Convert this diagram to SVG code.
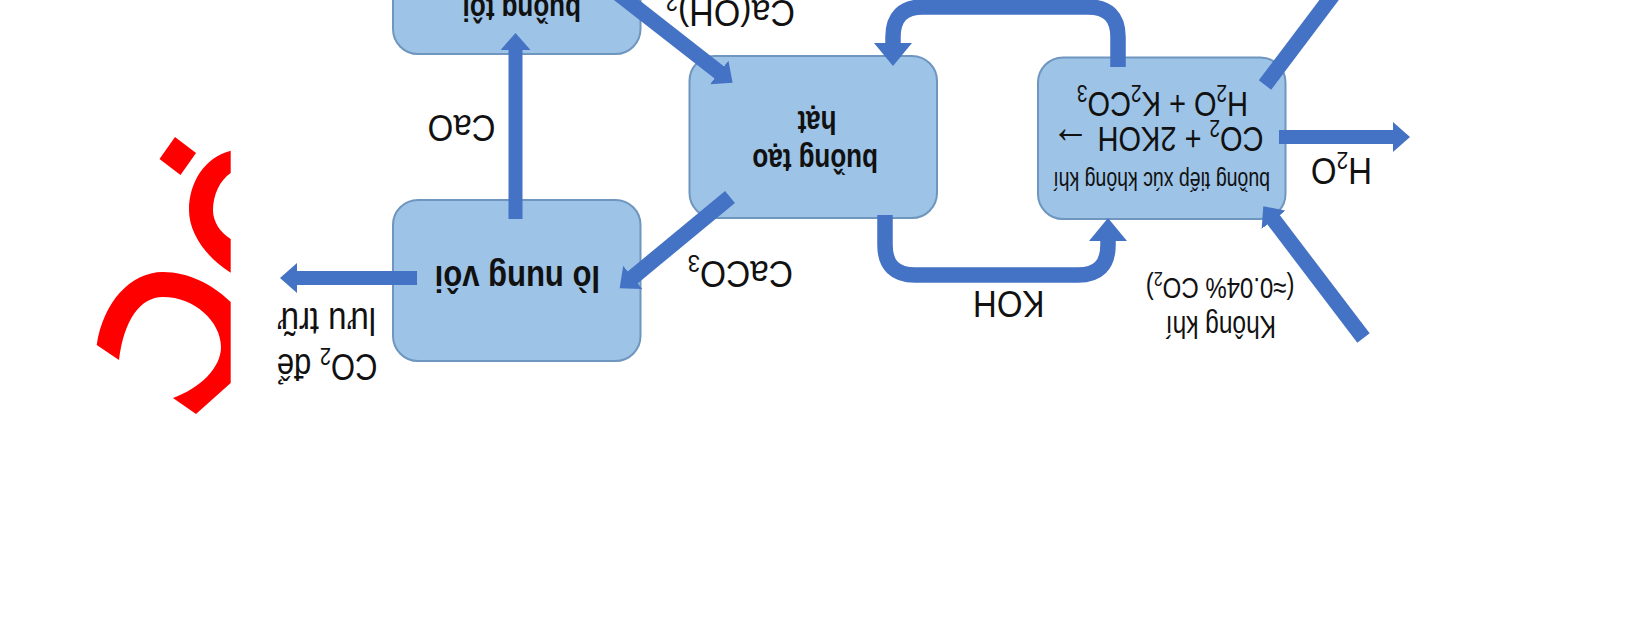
<svg xmlns="http://www.w3.org/2000/svg" width="1650" height="635" viewBox="0 0 1650 635">
<style>
.box{fill:#9DC3E6;stroke:#6F96BF;stroke-width:2}
.c{fill:none;stroke:#4472C4;stroke-width:14}
.w{stroke-width:15.500}
.a{marker-end:url(#h)}
.l{marker-end:url(#g)}
text{font-family:"Liberation Sans",Arial,sans-serif;fill:#111}
.b{font-weight:700}
</style>
<defs>
<marker id="h" markerUnits="userSpaceOnUse" markerWidth="18" markerHeight="30" refX="1" refY="15" orient="auto"><path d="M0,0L17,15L0,30Z" fill="#4472C4"/></marker>
<marker id="g" markerUnits="userSpaceOnUse" markerWidth="24" markerHeight="38" refX="1" refY="19" orient="auto"><path d="M0,0L23,19L0,38Z" fill="#4472C4"/></marker>
</defs>
<rect width="1650" height="635" fill="#fff"/>
<g id="red-shapes" fill="#f00">
<path d="M175,137L196,153L180.500,175L159.500,159Z"/>
<path d="M230.700,150.700C205,157 189,182 189,210C189,234 207,258 230.700,272.700L230.700,239C220,232 213,222 213,210C213,195 220,180 230.700,173Z"/>
<path d="M96.700,345C103,303 130,272 163,272C188,272 212,284 230.700,302L230.700,383L196,414L173,398C200,388 221,368 221,347C221,322 195,297 163,297C140,297 124,320 119,360Z"/>
</g>
<g id="node-buong-toi"><rect class="box" x="393" y="-107" width="247.500" height="161" rx="25"/><text class="b" font-size="26" transform="translate(581,-2) rotate(180) scale(1,1.25)">buồng tôi</text></g>
<g id="node-lo-nung-voi"><rect class="box" x="393" y="200" width="247.500" height="161" rx="25"/><text class="b" font-size="31" transform="translate(600,266) rotate(180) scale(1,1.2)">lò nung vôi</text></g>
<g id="node-buong-tao-hat"><rect class="box" x="689.500" y="56" width="247.500" height="162" rx="25"/><text class="b" font-size="26" transform="translate(878,149) rotate(180) scale(1,1.25)">buồng tạo</text><text class="b" font-size="26" transform="translate(836.500,111) rotate(180) scale(1,1.25)">hạt</text></g>
<g id="node-tiep-xuc"><rect class="box" x="1038" y="57.500" width="247.500" height="161.500" rx="25"/>
<text font-size="19.500" transform="translate(1270,171.500) rotate(180) scale(1,1.3)">buồng tiếp xúc không khí</text>
<text font-size="29" transform="translate(1263.500,126.500) rotate(180) scale(1,1.22)">CO<tspan font-size="19" dy="5">2</tspan><tspan dy="-5"> + 2KOH </tspan><tspan font-size="38">→</tspan></text>
<text font-size="29" transform="translate(1248,91.500) rotate(180) scale(1,1.22)">H<tspan font-size="19" dy="5">2</tspan><tspan dy="-5">O + K</tspan><tspan font-size="19" dy="5">2</tspan><tspan dy="-5">CO</tspan><tspan font-size="19" dy="5">3</tspan></text></g>
<g id="connectors">
<line class="c a" x1="515.500" y1="219" x2="515.500" y2="49"/>
<line class="c a" x1="417" y1="278" x2="296" y2="278"/>
<line class="c w a" x1="730" y1="197" x2="632" y2="278"/>
<line class="c w a" x1="606" y1="-16" x2="720" y2="73"/>
<path class="c w l" d="M1118,67V37Q1118,7 1088,7H923Q893,7 893,37V44"/>
<path class="c w l" d="M885,215V245Q885,275 915,275H1078Q1108,275 1108,245V240"/>
<line class="c a" x1="1279" y1="137" x2="1394" y2="137"/>
<line class="c w a" x1="1363.500" y1="338" x2="1273" y2="219"/>
<line class="c w" x1="1265" y1="85" x2="1400" y2="-94"/>
</g>
<g id="labels">
<text font-size="33" transform="translate(495.500,115) rotate(180) scale(1,1.1)">CaO</text>
<text font-size="31" transform="translate(377.500,354) rotate(180) scale(1,1.2)">CO<tspan font-size="20" dy="5">2</tspan><tspan dy="-5"> để</tspan></text>
<text font-size="33" transform="translate(376,308) rotate(180) scale(1,1.15)">lưu trữ</text>
<text font-size="33" transform="translate(1044.500,290.500) rotate(180) scale(1,1.1)">KOH</text>
<text font-size="33.500" transform="translate(793,260.500) rotate(180) scale(1,1.1)">CaCO<tspan font-size="22" dy="5">3</tspan></text>
<text font-size="34" transform="translate(795,0) rotate(180) scale(1,1.1)">Ca(OH)<tspan font-size="22" dy="5">2</tspan></text>
<text font-size="33" transform="translate(1372,157.500) rotate(180) scale(1,1.12)">H<tspan font-size="21" dy="5">2</tspan><tspan dy="-5">O</tspan></text>
<text font-size="24.500" transform="translate(1276,315.500) rotate(180) scale(1,1.25)">Không khí</text>
<text font-size="24" transform="translate(1294.500,277.500) rotate(180) scale(1,1.25)">(≈0.04% CO<tspan font-size="16" dy="4">2</tspan><tspan dy="-4">)</tspan></text>
</g>
</svg>
